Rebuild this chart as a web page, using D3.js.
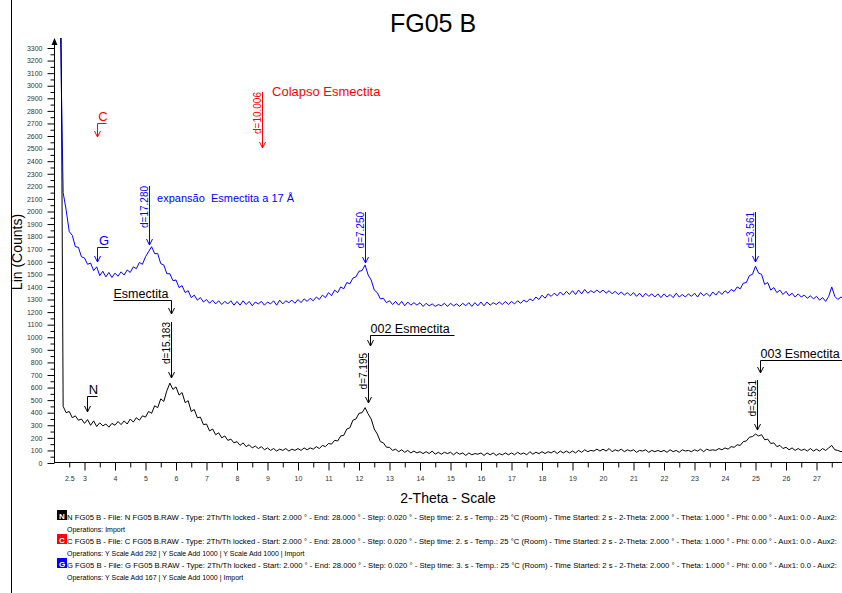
<!DOCTYPE html>
<meta charset="utf-8">
<svg width="842" height="593"></svg>
<style>
  body { margin: 0; background: #fff; }
  svg { font-family: "Liberation Sans", Arial, sans-serif; display: block; }
  .tick text { font-size: 7px; fill: #333; }
</style>
<script src="https://d3js.org/d3.v7.min.js"></script>
<script>

// scan grid: 2.0 .. 28.0 deg, one value every 0.1 deg (rows = one degree)
var thetaStart = 2.0, thetaStep = 0.1;

var countsN = [
  9000, 7000, 5000, 450, 400, 410, 360, 375, 340, 350,
  315, 345, 300, 335, 290, 320, 295, 310, 285, 315,
  300, 330, 305, 335, 310, 350, 325, 360, 340, 375,
  365, 410, 395, 455, 440, 510, 490, 575, 635, 585,
  605, 540, 560, 480, 495, 410, 425, 360, 365, 305,
  310, 255, 270, 225, 240, 200, 215, 180, 190, 160,
  170, 140, 160, 130, 145, 120, 135, 115, 130, 105,
  120, 100, 115, 95, 110, 100, 115, 95, 110, 100,
  115, 100, 120, 105, 120, 110, 130, 115, 140, 130,
  155, 150, 180, 175, 215, 220, 270, 280, 340, 350,
  395, 400, 440, 390, 350, 270, 230, 170, 160, 125,
  125, 100, 110, 90, 105, 85, 100, 80, 95, 80,
  90, 75, 90, 75, 95, 70, 85, 70, 85, 75,
  85, 65, 85, 70, 80, 60, 80, 65, 75, 70,
  80, 60, 80, 65, 80, 60, 75, 65, 80, 65,
  80, 65, 85, 70, 80, 65, 90, 70, 85, 75,
  90, 75, 90, 80, 95, 75, 95, 80, 95, 80,
  95, 80, 100, 85, 105, 90, 100, 95, 110, 95,
  110, 95, 115, 90, 105, 95, 110, 90, 105, 95,
  105, 85, 100, 95, 105, 85, 100, 90, 100, 90,
  100, 85, 105, 90, 100, 85, 105, 95, 100, 90,
  105, 95, 110, 90, 110, 100, 105, 100, 115, 105,
  120, 110, 130, 125, 145, 140, 170, 175, 205, 210,
  230, 215, 225, 185, 190, 155, 160, 130, 140, 115,
  125, 105, 120, 100, 115, 100, 110, 95, 115, 95,
  110, 95, 115, 100, 120, 140, 105, 100, 90, 95,
  90
];

var countsG = [
  9000, 8000, 3600, 2150, 2010, 1840, 1810, 1720, 1715, 1640,
  1630, 1580, 1590, 1530, 1560, 1490, 1525, 1480, 1515, 1475,
  1510, 1485, 1520, 1495, 1535, 1515, 1560, 1545, 1595, 1580,
  1640, 1680, 1720, 1665, 1665, 1585, 1575, 1505, 1505, 1450,
  1455, 1395, 1410, 1355, 1370, 1315, 1335, 1295, 1315, 1280,
  1300, 1270, 1295, 1265, 1290, 1260, 1285, 1265, 1290, 1255,
  1285, 1255, 1290, 1260, 1285, 1250, 1280, 1265, 1285, 1255,
  1280, 1265, 1290, 1255, 1295, 1265, 1290, 1275, 1295, 1270,
  1300, 1275, 1305, 1285, 1310, 1290, 1320, 1300, 1335, 1315,
  1355, 1330, 1375, 1355, 1400, 1385, 1435, 1425, 1470, 1480,
  1525, 1530, 1575, 1495, 1455, 1375, 1355, 1305, 1310, 1275,
  1290, 1260, 1285, 1255, 1285, 1250, 1280, 1255, 1275, 1255,
  1275, 1245, 1270, 1250, 1265, 1245, 1260, 1250, 1270, 1245,
  1270, 1250, 1265, 1245, 1270, 1250, 1275, 1245, 1275, 1250,
  1280, 1250, 1280, 1255, 1275, 1260, 1280, 1260, 1285, 1260,
  1285, 1265, 1290, 1270, 1295, 1280, 1305, 1290, 1320, 1300,
  1335, 1310, 1345, 1325, 1350, 1330, 1360, 1335, 1365, 1340,
  1370, 1340, 1375, 1345, 1380, 1350, 1370, 1355, 1375, 1355,
  1375, 1350, 1370, 1345, 1365, 1340, 1360, 1335, 1355, 1330,
  1355, 1325, 1350, 1320, 1350, 1325, 1345, 1320, 1345, 1315,
  1345, 1320, 1340, 1315, 1350, 1320, 1340, 1320, 1345, 1325,
  1350, 1320, 1355, 1330, 1350, 1325, 1360, 1335, 1365, 1340,
  1370, 1350, 1380, 1365, 1400, 1385, 1430, 1435, 1490, 1500,
  1565, 1510, 1500, 1420, 1435, 1375, 1395, 1355, 1375, 1340,
  1365, 1330, 1350, 1320, 1345, 1320, 1335, 1310, 1330, 1305,
  1325, 1295, 1315, 1285, 1325, 1400, 1325, 1300, 1320, 1300,
  1310
];

var xMajor = [3, 4, 5, 6, 7, 8, 9, 10, 11, 12, 13, 14, 15, 16, 17, 18, 19, 20, 21, 22, 23, 24, 25, 26, 27];

// d-spacing peak marks: theta, top and tip of the arrow in counts
var peakMarks = [
  {series: "C", theta: 8.83, top: 2950, tip: 2505, label: "d=10.006"},
  {series: "G", theta: 5.11, top: 2203, tip: 1733, label: "d=17.280"},
  {series: "G", theta: 12.2, top: 1996, tip: 1590, label: "d=7.250"},
  {series: "G", theta: 24.99, top: 1996, tip: 1598, label: "d=3.561"},
  {series: "N", theta: 5.82, top: 1121, tip: 676, label: "d=15.183"},
  {series: "N", theta: 12.29, top: 875, tip: 477, label: "d=7.195"},
  {series: "N", theta: 25.06, top: 660, tip: 262, label: "d=3.551"}
];

// bracket labels: text on a rule, arrow down at one end
var bracketMarks = [
  {series: "C", label: "C", from: 3.41, to: 3.70, rule: 2704, tip: 2592, arrowAt: "from"},
  {series: "G", label: "G", from: 3.41, to: 3.77, rule: 1718, tip: 1598, arrowAt: "from"},
  {series: "N", label: "N", from: 3.08, to: 3.41, rule: 533, tip: 406, arrowAt: "from"},
  {series: "N", label: "Esmectita", from: 3.93, to: 5.84, rule: 1296, tip: 1185, arrowAt: "to"},
  {series: "N", label: "002 Esmectita", from: 12.36, to: 15.11, rule: 1018, tip: 930, arrowAt: "from"},
  {series: "N", label: "003 Esmectita", from: 25.15, to: 28.5, rule: 819, tip: 716, arrowAt: "from"}
];

var freeNotes = [
  {series: "C", theta: 9.15, count: 2918, label: "Colapso Esmectita"},
  {series: "G", theta: 5.38, count: 2075, label: "expansão  Esmectita a 17 Å"}
];

var legendRows = [
  {series: "N", line: "N FG05 B - File: N FG05 B.RAW - Type: 2Th/Th locked - Start: 2.000 ° - End: 28.000 ° - Step: 0.020 ° - Step time: 2. s - Temp.: 25 °C (Room) - Time Started: 2 s - 2-Theta: 2.000 ° - Theta: 1.000 ° - Phi: 0.00 ° - Aux1: 0.0 - Aux2:",
   ops: "Operations: Import"},
  {series: "C", line: "C FG05 B - File: C FG05 B.RAW - Type: 2Th/Th locked - Start: 2.000 ° - End: 28.000 ° - Step: 0.020 ° - Step time: 2. s - Temp.: 25 °C (Room) - Time Started: 2 s - 2-Theta: 2.000 ° - Theta: 1.000 ° - Phi: 0.00 ° - Aux1: 0.0 - Aux2:",
   ops: "Operations: Y Scale Add 292 | Y Scale Add 1000 | Y Scale Add 1000 | Import"},
  {series: "G", line: "G FG05 B - File: G FG05 B.RAW - Type: 2Th/Th locked - Start: 2.000 ° - End: 28.000 ° - Step: 0.020 ° - Step time: 3. s - Temp.: 25 °C (Room) - Time Started: 2 s - 2-Theta: 2.000 ° - Theta: 1.000 ° - Phi: 0.00 ° - Aux1: 0.0 - Aux2:",
   ops: "Operations: Y Scale Add 167 | Y Scale Add 1000 | Import"}
];

var colors = {N: "#000000", C: "#ff0000", G: "#0000ff"};
var noteSize = {C: "13px", G: "11px"};

var svg = d3.select("svg");

var x = d3.scaleLinear().domain([2, 28]).range([54, 847]);
var y = d3.scaleLinear().domain([0, 3300]).range([463, 48]);

// left frame rule
svg.append("line").attr("x1", 11.5).attr("x2", 11.5).attr("y1", 0).attr("y2", 593)
    .attr("stroke", "#000").attr("stroke-width", 1);

// title
svg.append("text").attr("x", 433).attr("y", 32).attr("text-anchor", "middle")
    .style("font-size", "25px").text("FG05 B");

svg.append("defs").append("clipPath").attr("id", "plot")
  .append("rect").attr("x", 55).attr("y", 38).attr("width", 790).attr("height", 425);

// y axis
var yMinor = svg.append("g").attr("transform", "translate(54.5,0)")
    .call(d3.axisLeft(y).tickValues(d3.range(50, 3300, 100)).tickSize(4).tickFormat(""));
yMinor.select(".domain").remove();
var yAxis = svg.append("g").attr("transform", "translate(54.5,0)")
    .call(d3.axisLeft(y).tickValues(d3.range(0, 3301, 100)).tickSize(7).tickPadding(5)
      .tickFormat(d3.format("d")));
yAxis.select(".domain").remove();

svg.append("line").attr("x1", 54.5).attr("x2", 54.5).attr("y1", 463).attr("y2", 40)
    .attr("stroke", "#000");
svg.append("path").attr("d", "M51.5,45 L54.5,38 L57.5,45 Z").attr("fill", "#000");

// x axis
var xMinor = svg.append("g").attr("transform", "translate(0,462.5)")
    .call(d3.axisBottom(x).tickValues(d3.range(2.5, 28, 1)).tickSize(5).tickPadding(9)
      .tickFormat(function(d) { return d === 2.5 ? "2.5" : ""; }));
xMinor.select(".domain").remove();
var xAxis = svg.append("g").attr("transform", "translate(0,462.5)")
    .call(d3.axisBottom(x).tickValues(xMajor).tickSize(8).tickPadding(6));
xAxis.select(".domain").remove();
svg.append("line").attr("x1", 54).attr("x2", 842).attr("y1", 462.5).attr("y2", 462.5)
    .attr("stroke", "#000");

// axis titles
svg.append("text").attr("transform", "translate(22,252) rotate(-90)")
    .attr("text-anchor", "middle").style("font-size", "14px").text("Lin (Counts)");
svg.append("text").attr("x", 448).attr("y", 503).attr("text-anchor", "middle")
    .style("font-size", "14px").text("2-Theta - Scale");

// scans
var line = d3.line()
    .x(function(d, i) { return x(thetaStart + i * thetaStep); })
    .y(function(d) { return y(d); });

var plot = svg.append("g").attr("clip-path", "url(#plot)");
[["G", countsG], ["N", countsN]].forEach(function(s) {
  plot.append("path").datum(s[1])
      .attr("fill", "none")
      .attr("stroke", colors[s[0]])
      .attr("stroke-width", 1)
      .attr("d", line);
});

function arrowHead(g, px, py, c) {
  g.append("path")
      .attr("d", "M" + (px - 3) + "," + (py - 6) + " L" + px + "," + py + " L" + (px + 3) + "," + (py - 6))
      .attr("fill", "none").attr("stroke", c).attr("stroke-width", 1);
}

var notes = svg.append("g");

peakMarks.forEach(function(m) {
  var c = colors[m.series], px = Math.round(x(m.theta)) + 0.5;
  notes.append("line").attr("x1", px).attr("x2", px)
      .attr("y1", y(m.top)).attr("y2", y(m.tip))
      .attr("stroke", c).attr("stroke-width", 1);
  arrowHead(notes, px, y(m.tip), c);
  notes.append("text")
      .attr("transform", "translate(" + (px - 2) + "," + y(m.top) + ") rotate(-90)")
      .attr("text-anchor", "end")
      .style("font-size", "10px").style("fill", c)
      .text(m.label);
});

bracketMarks.forEach(function(m) {
  var c = colors[m.series];
  var x0 = Math.round(x(m.from)) + 0.5, x1 = Math.min(Math.round(x(m.to)) + 0.5, 842);
  var ax = m.arrowAt === "from" ? x0 : x1;
  var ry = Math.round(y(m.rule)) + 0.5;
  notes.append("path")
      .attr("d", "M" + x0 + "," + ry + " L" + x1 + "," + ry)
      .attr("stroke", c).attr("stroke-width", 1);
  notes.append("line").attr("x1", ax).attr("x2", ax).attr("y1", ry).attr("y2", y(m.tip))
      .attr("stroke", c).attr("stroke-width", 1);
  arrowHead(notes, ax, y(m.tip), c);
  var short = m.label.length === 1;
  notes.append("text")
      .attr("x", short ? (x0 + x1) / 2 + 1 : x0)
      .attr("y", ry - 3)
      .attr("text-anchor", short ? "middle" : "start")
      .style("font-size", short ? "13px" : "12.5px").style("fill", c)
      .text(m.label);
});

freeNotes.forEach(function(m) {
  notes.append("text").attr("x", x(m.theta)).attr("y", y(m.count))
      .style("font-size", noteSize[m.series]).style("fill", colors[m.series])
      .style("white-space", "pre").attr("xml:space", "preserve")
      .text(m.label);
});

// legend
var legend = svg.append("g").style("font-size", "7px");
legendRows.forEach(function(r, i) {
  var by = 520 + i * 24;
  var c = colors[r.series];
  legend.append("rect").attr("x", 57.5).attr("y", by - 9.5).attr("width", 9).attr("height", 9)
      .attr("fill", c).attr("stroke", r.series === "N" ? "#000" : c);
  legend.append("text").attr("x", 62).attr("y", by - 1.5).attr("text-anchor", "middle")
      .style("font-size", "8px").style("font-weight", "bold").style("fill", "#fff").text(r.series);
  legend.append("text").attr("x", 67).attr("y", by)
      .attr("textLength", 770).attr("lengthAdjust", "spacingAndGlyphs")
      .text(r.line);
  legend.append("text").attr("x", 67).attr("y", by + 12).text(r.ops);
});

</script>
